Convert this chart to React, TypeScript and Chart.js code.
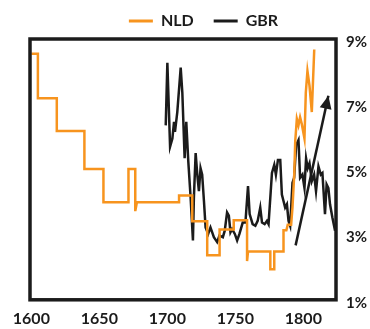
import React, { useEffect, useRef } from 'react';
import { Chart, registerables } from 'chart.js';

Chart.register(...registerables);

// NLD: step-shaped series (vertices: year, rate %)
const nldYears = [
  1600, 1604.8, 1604.8, 1618.7, 1618.7, 1639, 1639, 1653, 1653, 1671.4, 1671.4, 1676.4,
  1676.4, 1677.6, 1708.6, 1708.6, 1718.3, 1718.3, 1729.3, 1729.3, 1738.4, 1738.4, 1748.8,
  1748.8, 1758.6, 1758.6, 1759.3, 1775.7, 1775.7, 1778.6, 1778.6, 1785.4, 1785.4, 1787.5,
  1788.5, 1791, 1792, 1793.3, 1794, 1795.2, 1796.4, 1797.6, 1798.8, 1800.8, 1801.8, 1803,
  1804.5, 1806.2, 1808,
];
const nldValues = [
  8.55, 8.55, 7.18, 7.18, 6.18, 6.18, 5.01, 5.01, 3.99, 3.99, 5.01, 5.01,
  3.72, 3.99, 3.99, 4.2, 4.2, 3.41, 3.41, 2.37, 2.37, 3.16, 3.16,
  3.44, 3.44, 2.19, 2.48, 2.48, 1.94, 1.94, 2.48, 2.48, 3.13, 3.13,
  3.3, 3.3, 3.83, 4.85, 5.85, 6.55, 6.35, 6.6, 6.4, 5.95, 7.36, 8.02,
  7.57, 6.76, 8.68,
];

// GBR: yearly-ish noisy series
const gbrYears = [
  1698.8, 1700, 1702, 1703.7, 1704.9, 1705.6, 1707.3, 1709.8, 1711, 1712.7, 1713.9, 1715.4,
  1717.1, 1718.8, 1719.5, 1720.8, 1722, 1723.2, 1724.4, 1725.6, 1726.9, 1728.1, 1730, 1731.7,
  1734.2, 1736.6, 1738.3, 1740.8, 1742.2, 1743.9, 1745.2, 1746.4, 1747.6, 1749.6, 1751.3, 1753,
  1755.4, 1757.4, 1759.3, 1760.5, 1762.7, 1764.7, 1766.4, 1768.3, 1769.6, 1771.5, 1773.2, 1774.4,
  1776.9, 1778.6, 1779.8, 1781.3, 1783, 1784.2, 1785.4, 1786.6, 1787.9, 1789.1, 1790.3, 1792,
  1793.2, 1794.7, 1796.4, 1797.6, 1799.3, 1800.8, 1802, 1803.2, 1804.5, 1806.2, 1807.9, 1809.3,
  1811.1, 1812.8, 1814, 1815.9, 1817.1, 1818.4, 1819.6, 1821.3, 1823.3,
];
const gbrValues = [
  6.35, 8.27, 5.7, 5.95, 6.46, 6.15, 6.76, 8.12, 7.36, 5.34, 6.46, 5.24,
  4.13, 2.82, 4.13, 5.5, 4.84, 4.33, 5.04, 4.84, 4.03, 3.22, 3.02, 3.22,
  2.92, 2.77, 2.97, 2.92, 3.12, 3.68, 3.58, 3.07, 3.17, 3.02, 2.82, 3.02,
  3.37, 3.37, 4.49, 3.63, 3.32, 3.27, 3.42, 3.83, 3.37, 3.32, 3.42, 3.32,
  4.89, 5.14, 4.84, 5.29, 5.29, 4.23, 4.03, 3.83, 3.93, 3.42, 3.27, 4.59,
  4.74, 5.75, 5.9, 4.74, 4.84, 4.43, 5.34, 5.04, 5.19, 4.64, 4.84, 4.33,
  5.09, 4.84, 4.89, 3.63, 4.54, 4.43, 3.93, 3.53, 3.12,
];

// Trend arrow
const arrowYears = [1794.3, 1818.4];
const arrowValues = [2.67, 7.26];

const xTickValues = [1600, 1650, 1700, 1750, 1800];
const yTickValues = [1, 3, 5, 7, 9];

const ORANGE = '#F7941E';
const BLACK = '#1b1b1b';
const FONT = 'Lato, "DejaVu Sans", sans-serif';

const toPoints = (xs: number[], ys: number[]) => xs.map((x, i) => ({ x, y: ys[i] }));

const frameAndArrow = {
  id: 'frameAndArrow',
  afterDatasetsDraw(chart: any) {
    const ctx = chart.ctx;
    const meta = chart.getDatasetMeta(2);
    if (meta && meta.data.length >= 2) {
      const p0 = meta.data[0];
      const p1 = meta.data[meta.data.length - 1];
      const ang = Math.atan2(p1.y - p0.y, p1.x - p0.x);
      const len = 13;
      const half = 6;
      ctx.save();
      ctx.fillStyle = BLACK;
      ctx.beginPath();
      ctx.moveTo(p1.x, p1.y);
      const bx = p1.x - len * Math.cos(ang);
      const by = p1.y - len * Math.sin(ang);
      ctx.lineTo(bx + half * Math.sin(ang), by - half * Math.cos(ang));
      ctx.lineTo(bx - half * Math.sin(ang), by + half * Math.cos(ang));
      ctx.closePath();
      ctx.fill();
      ctx.restore();
    }
  },
  afterDraw(chart: any) {
    const { ctx, chartArea } = chart;
    ctx.save();
    ctx.strokeStyle = BLACK;
    ctx.lineWidth = 3.5;
    ctx.strokeRect(chartArea.left, chartArea.top, chartArea.right - chartArea.left, chartArea.bottom - chartArea.top);
    ctx.restore();
  },
};

export default function App() {
  const ref = useRef<HTMLCanvasElement>(null);
  useEffect(() => {
    if (!ref.current) return;
    const chart = new Chart(ref.current, {
      type: 'line',
      data: {
        datasets: [
          {
            label: 'NLD',
            data: toPoints(nldYears, nldValues),
            borderColor: ORANGE,
            backgroundColor: ORANGE,
            borderWidth: 2.5,
            pointRadius: 0,
            tension: 0,
          },
          {
            label: 'GBR',
            data: toPoints(gbrYears, gbrValues),
            borderColor: BLACK,
            backgroundColor: BLACK,
            borderWidth: 2.5,
            pointRadius: 0,
            tension: 0,
          },
          {
            label: 'trend',
            data: toPoints(arrowYears, arrowValues),
            borderColor: BLACK,
            backgroundColor: BLACK,
            borderWidth: 2.5,
            pointRadius: 0,
            tension: 0,
          },
        ],
      },
      options: {
        animation: false,
        responsive: false,
        devicePixelRatio: 1,
        layout: { padding: { left: 30, right: -7, top: -7, bottom: -8 } },
        plugins: {
          tooltip: { enabled: false },
          legend: {
            position: 'top',
            labels: {
              boxWidth: 24,
              boxHeight: 3,
              padding: 20,
              color: BLACK,
              font: { family: FONT, size: 16, weight: 'bold' },
              filter: (item: any) => item.datasetIndex < 2,
              generateLabels: (chart: any) =>
                Chart.defaults.plugins.legend.labels.generateLabels(chart).map((l: any) => ({
                  ...l,
                  lineWidth: 0,
                })),
            },
          },
        },
        scales: {
          x: {
            type: 'linear',
            min: 1599,
            max: 1824,
            afterBuildTicks: (s: any) => {
              s.ticks = xTickValues.map((v) => ({ value: v }));
            },
            grid: { display: false, drawTicks: false, tickLength: 0 },
            border: { display: false },
            ticks: {
              autoSkip: false,
              maxRotation: 0,
              padding: 9,
              color: BLACK,
              font: { family: FONT, size: 16, weight: 'bold' },
              callback: (v: any) => String(v),
            },
          },
          y: {
            position: 'right',
            min: 1,
            max: 9,
            afterBuildTicks: (s: any) => {
              s.ticks = yTickValues.map((v) => ({ value: v }));
            },
            grid: { display: false, drawTicks: false, tickLength: 0 },
            border: { display: false },
            ticks: {
              autoSkip: false,
              padding: 10,
              labelOffset: 3,
              color: BLACK,
              font: { family: FONT, size: 15, weight: 'bold' },
              callback: (v: any) => v + '%',
            },
          },
        },
      },
      plugins: [frameAndArrow],
    });
    return () => chart.destroy();
  }, []);
  return (
    <div style={{ position: 'fixed', left: 0, top: 0, width: 370, height: 329, background: '#fff' }}>
      <canvas ref={ref} width={370} height={329} style={{ display: 'block', width: 370, height: 329 }} />
    </div>
  );
}
